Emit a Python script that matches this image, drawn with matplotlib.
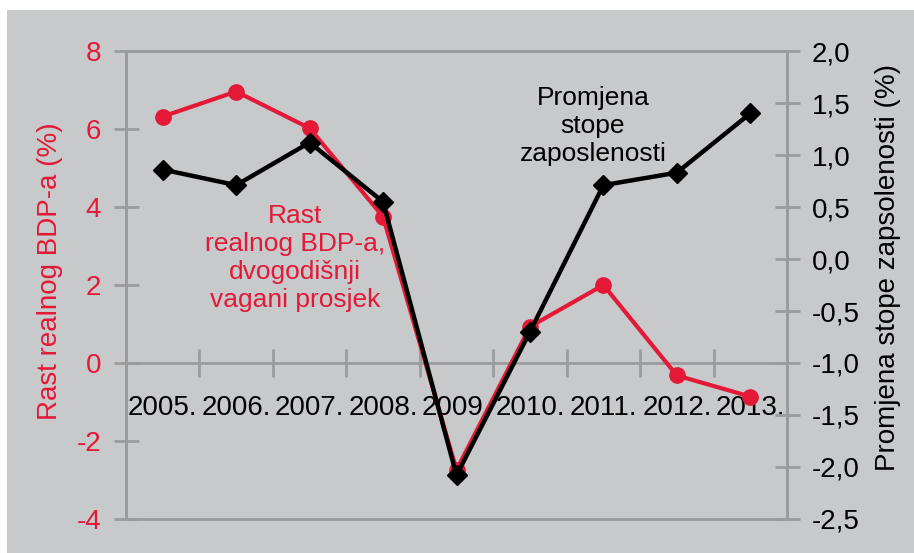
import numpy as np
import matplotlib.pyplot as plt
from matplotlib.patches import Rectangle
from matplotlib.ticker import FixedLocator, FuncFormatter

plt.rcParams['font.family'] = ['Liberation Sans', 'DejaVu Sans']

# data
years = ["2005.", "2006.", "2007.", "2008.", "2009.", "2010.", "2011.", "2012.", "2013."]
gdp_growth = [6.32, 6.96, 6.02, 3.75, -2.74, 0.93, 2.0, -0.32, -0.86]
employment_change = [0.86, 0.71, 1.12, 0.55, -2.08, -0.70, 0.71, 0.83, 1.40]

RED = "#e31937"
GRAY = "#9a9b9d"
BG = "#c8c9cb"

fig = plt.figure(figsize=(9.14, 5.53), dpi=100)
fig.patch.set_facecolor("white")
fig.patches.append(Rectangle((7 / 914, 0), 1, (553 - 10) / 553,
                             transform=fig.transFigure, facecolor=BG,
                             edgecolor="none", zorder=-10))

ax = fig.add_axes([126 / 914, 34 / 553, 661 / 914, 468 / 553])
ax.patch.set_visible(False)
ax2 = ax.twinx()

x = np.arange(len(years))

# red series: GDP growth (left axis)
ax.plot(x, gdp_growth, color=RED, lw=3, marker="o", ms=11, zorder=3)
ax.set_xlim(-0.5, len(years) - 0.5)
ax.set_ylim(-4, 8)
ax.set_yticks(np.arange(-4, 9, 2))
ax.yaxis.set_major_formatter(FuncFormatter(lambda v, p: "%d" % v))
ax.tick_params(axis="y", direction="inout", length=18, width=2, color=GRAY,
               labelsize=20, labelcolor=RED, pad=9)

# x axis sits at zero, category ticks between years
ax.spines["bottom"].set_position(("data", 0))
ax.set_xticks(x)
ax.set_xticklabels(years)
ax.xaxis.set_minor_locator(FixedLocator(np.arange(0.5, len(years) - 1, 1)))
ax.tick_params(axis="x", which="major", length=0, labelsize=20, pad=23)
ax.tick_params(axis="x", which="minor", direction="inout", length=20,
               width=2, color=GRAY)

for sp in ax.spines.values():
    sp.set_color(GRAY)
    sp.set_linewidth(2)

# black series: employment change (right axis)
ax2.plot(x, employment_change, color="black", lw=3.2, marker="D", ms=10,
         zorder=4)
ax2.set_ylim(-2.5, 2.0)
ax2.set_yticks(np.arange(-2.5, 2.01, 0.5))
ax2.yaxis.set_major_formatter(
    FuncFormatter(lambda v, p: ("%.1f" % v).replace(".", ",")))
ax2.tick_params(axis="y", direction="inout", length=18, width=2, color=GRAY,
                labelsize=20, labelcolor="black", pad=9)
for sp in ax2.spines.values():
    sp.set_color(GRAY)
    sp.set_linewidth(2)

ax.set_ylabel("Rast realnog BDP-a (%)", color=RED, fontsize=20)
ax.yaxis.set_label_coords(-0.0953, 0.53)
ax2.set_ylabel("Promjena stope zapsolenosti (%)", color="black", fontsize=20)
ax2.yaxis.set_label_coords(1.133, 0.538)

ax.text(0.2557, 0.558, "Rast\nrealnog BDP-a,\ndvogodišnji\nvagani prosjek",
        transform=ax.transAxes, ha="center", va="center", color=RED,
        fontsize=19, linespacing=1.2, zorder=2)
ax2.text(0.7065, 0.8397, "Promjena\nstope\nzaposlenosti",
         transform=ax2.transAxes, ha="center", va="center", color="black",
         fontsize=19, linespacing=1.2, zorder=2)

fig.savefig("out.png", dpi=100)
